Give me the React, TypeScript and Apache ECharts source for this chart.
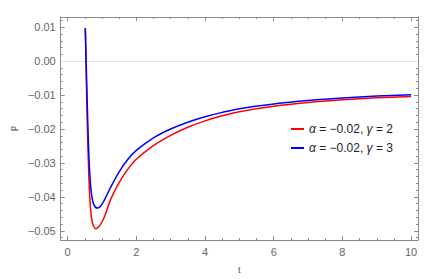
import React, { useEffect, useRef } from "react";
import * as echarts from "echarts";

const redT = [0.515, 0.53, 0.55, 0.575, 0.6, 0.63, 0.66, 0.7, 0.75, 0.82, 0.9, 1.0, 1.1, 1.25, 1.5, 1.75, 2.0, 2.5, 3.0, 3.5, 4.0, 4.5, 5.0, 6.0, 7.0, 8.0, 9.0, 10.0];
const redP = [0.0097, 0.002, -0.008, -0.019, -0.028, -0.037, -0.0425, -0.0465, -0.0485, -0.0494, -0.0489, -0.0474, -0.0452, -0.0408, -0.0358, -0.0319, -0.0289, -0.0249, -0.0219, -0.0195, -0.0176, -0.0161, -0.0149, -0.0133, -0.0122, -0.0114, -0.0108, -0.0104];

const blueT = [0.515, 0.535, 0.56, 0.59, 0.62, 0.66, 0.7, 0.76, 0.86, 0.95, 1.05, 1.15, 1.25, 1.5, 1.75, 2.0, 2.5, 3.0, 3.5, 4.0, 4.5, 5.0, 6.0, 7.0, 8.0, 9.0, 10.0];
const blueP = [0.0097, 0.002, -0.008, -0.019, -0.028, -0.0355, -0.0395, -0.0422, -0.0433, -0.0428, -0.0413, -0.0393, -0.0372, -0.0326, -0.029, -0.0263, -0.0226, -0.02, -0.018, -0.0164, -0.0151, -0.014, -0.0126, -0.0116, -0.0109, -0.0103, -0.0099];

const seriesNames = ["α = −0.02, γ = 2", "α = −0.02, γ = 3"];

const xMajor = [0, 2, 4, 6, 8, 10];
const xMinor = [0.5, 1, 1.5, 2.5, 3, 3.5, 4.5, 5, 5.5, 6.5, 7, 7.5, 8.5, 9, 9.5];
const yMajor = [-0.05, -0.04, -0.03, -0.02, -0.01, 0, 0.01];
const yMinor = [-0.052, -0.048, -0.046, -0.044, -0.042, -0.038, -0.036, -0.034, -0.032, -0.028, -0.026, -0.024, -0.022, -0.018, -0.016, -0.014, -0.012, -0.008, -0.006, -0.004, -0.002, 0.002, 0.004, 0.006, 0.008, 0.012];

const X_MIN = -0.2;
const X_MAX = 10.2;
const Y_MIN = -0.0527;
const Y_MAX = 0.013;

const FRAME = "#8a8a8a";
const LABEL = "#666";
const FONT = "'Liberation Sans', Arial, sans-serif";

const zip = (a: number[], b: number[]) => a.map((v, i) => [v, b[i]]);

const fmtY = (v: number) => {
  const r = Math.round(v * 100) / 100;
  return (r < 0 ? "−" : "") + Math.abs(r).toFixed(2);
};

function xAx(position: string, custom: number[], len: number, labels: boolean, line: boolean, extra: any = {}) {
  return {
    type: "value",
    position,
    min: X_MIN,
    max: X_MAX,
    axisLine: { show: line, onZero: false, lineStyle: { color: FRAME, width: 1 } },
    axisTick: { show: true, inside: true, length: len, customValues: custom, lineStyle: { color: FRAME, width: 1 } },
    axisLabel: labels
      ? { show: true, customValues: custom, color: LABEL, fontSize: 11, fontFamily: FONT, margin: 6, formatter: (v: number) => String(v) }
      : { show: false },
    splitLine: { show: false },
    ...extra,
  };
}

function yAx(position: string, custom: number[], len: number, labels: boolean, line: boolean, extra: any = {}) {
  return {
    type: "value",
    position,
    min: Y_MIN,
    max: Y_MAX,
    axisLine: { show: line, onZero: false, lineStyle: { color: FRAME, width: 1 } },
    axisTick: { show: true, inside: true, length: len, customValues: custom, lineStyle: { color: FRAME, width: 1 } },
    axisLabel: labels
      ? { show: true, customValues: custom, color: LABEL, fontSize: 11, fontFamily: FONT, margin: 5, formatter: fmtY }
      : { show: false },
    splitLine: { show: false },
    ...extra,
  };
}

export default function App() {
  const ref = useRef<HTMLDivElement>(null);
  useEffect(() => {
    if (!ref.current) return;
    const chart = echarts.init(ref.current, null, { renderer: "svg" });
    chart.setOption({
      animation: false,
      backgroundColor: "#fff",
      grid: { left: 48, right: 18, top: 17, bottom: 33, containLabel: false },
      legend: {
        orient: "vertical",
        left: 286,
        top: 118,
        itemGap: 7,
        itemWidth: 13,
        itemHeight: 2,
        icon: "rect",
        textStyle: {
          color: "#222",
          fontSize: 12,
          fontFamily: FONT,
          rich: { i: { fontStyle: "italic", fontSize: 12, fontFamily: FONT, color: "#222" } },
        },
        formatter: (name: string) => name.replace("α", "{i|α}").replace("γ", "{i|γ}"),
        data: seriesNames,
      },
      xAxis: [
        xAx("bottom", xMajor, 4, true, true, {
          name: "t",
          nameLocation: "middle",
          nameGap: 25,
          nameTextStyle: { color: "#444", fontSize: 9, fontFamily: FONT },
        }),
        xAx("bottom", xMinor, 2, false, false),
        xAx("top", xMajor, 4, false, true),
        xAx("top", xMinor, 2, false, false),
      ],
      yAxis: [
        yAx("left", yMajor, 4, true, true, {
          name: "p",
          nameLocation: "middle",
          nameRotate: 90,
          nameGap: 41,
          nameTextStyle: { color: "#444", fontSize: 9, fontFamily: FONT },
        }),
        yAx("left", yMinor, 2, false, false),
        yAx("right", yMajor, 4, false, true),
        yAx("right", yMinor, 2, false, false),
      ],
      series: [
        {
          name: seriesNames[0],
          type: "line",
          data: zip(redT, redP),
          showSymbol: false,
          smooth: 0.3,
          color: "#ff0000",
          lineStyle: { color: "#ff0000", width: 1.5 },
          z: 3,
          markLine: {
            silent: true,
            symbol: "none",
            label: { show: false },
            lineStyle: { color: "#e2e2e2", width: 1, type: "solid" },
            data: [{ yAxis: 0 }],
            z: 1,
          },
        },
        {
          name: seriesNames[1],
          type: "line",
          data: zip(blueT, blueP),
          showSymbol: false,
          smooth: 0.3,
          color: "#0000ff",
          lineStyle: { color: "#0000ff", width: 1.5 },
          z: 4,
        },
      ],
    });
    return () => chart.dispose();
  }, []);
  return <div ref={ref} style={{ position: "fixed", left: 0, top: 0, width: 436, height: 279 }} />;
}
